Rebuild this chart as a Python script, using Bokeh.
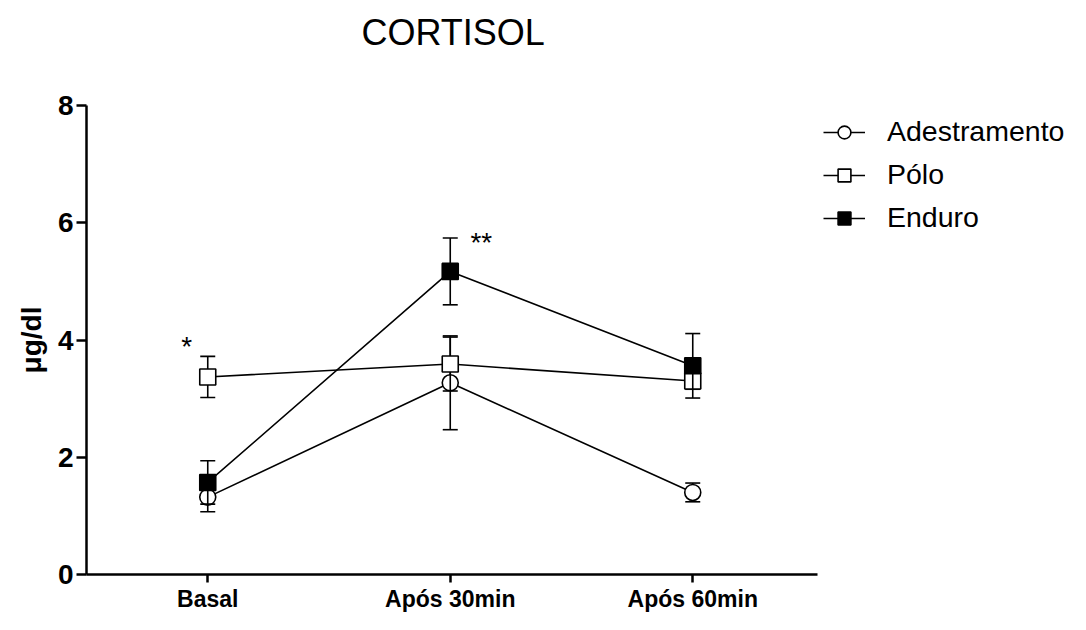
import numpy as np
from bokeh.plotting import figure
from bokeh.models import (ColumnDataSource, FixedTicker, Legend, LegendItem,
                          LinearAxis, Range1d, Title)
from bokeh.core.properties import value
from bokeh.embed import file_html
from bokeh.resources import INLINE

# ---- data ----
categories = ["Basal", "Após 30min", "Após 60min"]
cat_pos = [0, 1, 2]
adestramento_mean = [1.32, 3.27, 1.40]
adestramento_sem = [0.25, 0.80, 0.16]
polo_mean = [3.37, 3.59, 3.30]
polo_sem = [0.35, 0.46, 0.14]
enduro_mean = [1.57, 5.17, 3.56]
enduro_sem = [0.37, 0.57, 0.55]
y_ticks = [0, 2, 4, 6, 8]
sig_text = ["*", "**"]
sig_x = [-0.087, 1.128]
sig_y = [3.89, 5.66]

FONT = "Liberation Sans"

# the frame also hosts the legend area on the right; the x axis line is bounded
X_START, X_AXIS_END, X_FRAME_END = -0.5, 2.515, 3.5495

p = figure(width=1070, height=614, x_range=Range1d(X_START, X_FRAME_END), y_range=Range1d(0, 8),
           output_backend="svg", toolbar_location=None, title=None,
           min_border_left=86, min_border_right=2, min_border_top=105, min_border_bottom=40)
p.outline_line_color = None
p.xgrid.visible = False
p.ygrid.visible = False
p.background_fill_color = "white"
p.border_fill_color = "white"

xax = p.below[0]
yax = p.left[0]

# axes
for ax in (xax, yax):
    ax.axis_line_width = 2.5
    ax.axis_line_color = "black"
    ax.major_tick_line_width = 2.5
    ax.major_tick_line_color = "black"
    ax.major_tick_in = 0
    ax.minor_tick_line_color = None
    ax.major_label_text_font = FONT
    ax.major_label_text_font_style = "bold"
    ax.major_label_text_color = "black"

xax.ticker = FixedTicker(ticks=cat_pos)
xax.bounds = (X_START, X_AXIS_END)
xax.major_label_overrides = {i: c for i, c in zip(cat_pos, categories)}
xax.major_tick_out = 8
xax.major_label_text_font_size = "23px"
xax.major_label_standoff = 3

yax.ticker = FixedTicker(ticks=y_ticks)
yax.major_tick_out = 10
yax.major_label_text_font_size = "28px"
yax.major_label_standoff = 3
yax.axis_label = "μg/dl"
yax.axis_label_text_font = FONT
yax.axis_label_text_font_style = "bold"
yax.axis_label_text_font_size = "28px"
yax.axis_label_text_color = "black"
yax.axis_label_standoff = 8

# invisible spacer between the frame and the title
spacer = LinearAxis(ticker=FixedTicker(ticks=[1]), major_label_overrides={1: ""},
                    axis_line_color=None, major_tick_line_color=None,
                    minor_tick_line_color=None, major_tick_out=47, major_tick_in=0,
                    minor_tick_out=0, minor_tick_in=0, major_label_standoff=0,
                    major_label_text_font_size="1px")
p.add_layout(spacer, "above")

title = Title(text="CORTISOL", align="left", offset=275, vertical_align="middle", standoff=10,
              text_font=FONT, text_font_size="36px", text_font_style="normal",
              text_color="black")
p.add_layout(title, "above")

series = [
    ("Adestramento", adestramento_mean, adestramento_sem, "circle", "white"),
    ("Pólo", polo_mean, polo_sem, "square", "white"),
    ("Enduro", enduro_mean, enduro_sem, "square", "black"),
]

items = []
for name, mean, sem, marker, fill in series:
    m = np.array(mean)
    e = np.array(sem)
    src = ColumnDataSource(dict(x=cat_pos, y=m, lower=m - e, upper=m + e))
    ln = p.line("x", "y", source=src, line_color="black", line_width=1.6)
    p.segment("x", "lower", "x", "upper", source=src, line_color="black", line_width=1.6)
    p.scatter("x", "upper", source=src, marker="dash", size=15, line_color="black", line_width=1.6)
    p.scatter("x", "lower", source=src, marker="dash", size=15, line_color="black", line_width=1.6)
    sc = p.scatter("x", "y", source=src, marker=marker, size=16, fill_color=fill,
                   line_color="black", line_width=1.6)
    items.append(LegendItem(label=name, renderers=[ln, sc]))

# significance marks
sig_src = ColumnDataSource(dict(x=sig_x, y=sig_y, t=sig_text))
p.text("x", "y", text="t", source=sig_src, text_font=value(FONT), text_font_size="28px",
       text_align="center", text_baseline="alphabetic", text_color="black")

legend = Legend(items=items, location=(737, 340), padding=0, margin=0,
                border_line_color=None, background_fill_alpha=0,
                glyph_width=42, glyph_height=32, label_height=32, spacing=10,
                label_standoff=22, label_text_font=FONT, label_text_font_size="28.5px",
                label_text_color="black")
p.add_layout(legend)

open("out.html", "w").write(file_html(p, INLINE))
